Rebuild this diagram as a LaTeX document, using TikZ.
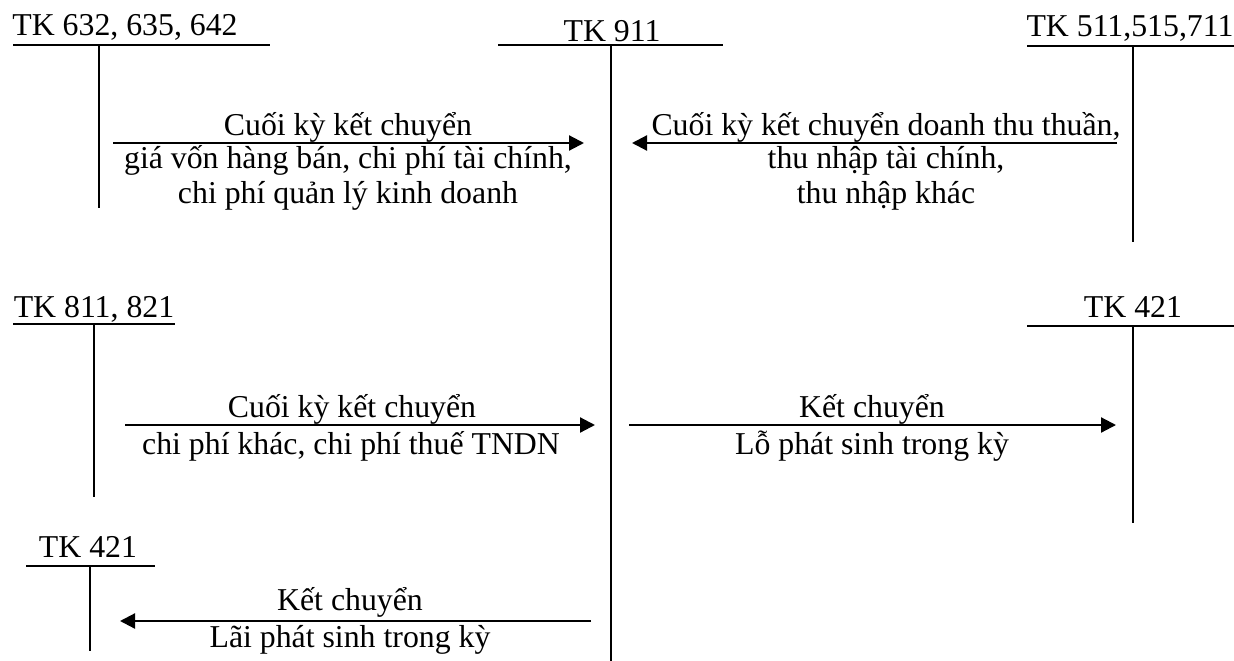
\documentclass[tikz,border=0pt]{standalone}
\usepackage{fontspec}
\setmainfont{Liberation Serif}
\usetikzlibrary{arrows.meta}
\begin{document}
\begin{tikzpicture}[x=1pt,y=-1pt,
  lbl/.style={inner sep=0pt,anchor=base,font=\fontsize{31.8}{35}\selectfont},
  tline/.style={line width=1.7pt},
  flow/.style={line width=2.2pt,-{Triangle[length=15pt,width=15pt]}}]
\useasboundingbox (0,0) rectangle (1234,661);

% ---- T-accounts: title, top rule, centre rule ----
% TK 632, 635, 642
\node[lbl] (t632) at (125,36) {TK 632, 635, 642};
\coordinate (t632L) at (13,45);  \coordinate (t632R) at (270,45);
\coordinate (t632T) at (99,45);  \coordinate (t632B) at (99,208);
\draw[tline] (t632L) -- (t632R);  \draw[tline] (t632T) -- (t632B);

% TK 911
\node[lbl] (t911) at (612,42) {TK 911};
\coordinate (t911L) at (498,45); \coordinate (t911R) at (723,45);
\coordinate (t911T) at (611,45); \coordinate (t911B) at (611,661);
\draw[tline] (t911L) -- (t911R);  \draw[tline] (t911T) -- (t911B);

% TK 511,515,711
\node[lbl] (t511) at (1130,37) {TK 511,515,711};
\coordinate (t511L) at (1027,46); \coordinate (t511R) at (1234,46);
\coordinate (t511T) at (1133,46); \coordinate (t511B) at (1133,242);
\draw[tline] (t511L) -- (t511R);  \draw[tline] (t511T) -- (t511B);

% TK 811, 821
\node[lbl] (t811) at (94,317) {TK 811, 821};
\coordinate (t811L) at (13,324); \coordinate (t811R) at (175,324);
\coordinate (t811T) at (94,324); \coordinate (t811B) at (94,497);
\draw[tline] (t811L) -- (t811R);  \draw[tline] (t811T) -- (t811B);

% TK 421 (loss side)
\node[lbl] (t421a) at (1133,317) {TK 421};
\coordinate (t421aL) at (1027,326); \coordinate (t421aR) at (1234,326);
\coordinate (t421aT) at (1133,326); \coordinate (t421aB) at (1133,523);
\draw[tline] (t421aL) -- (t421aR);  \draw[tline] (t421aT) -- (t421aB);

% TK 421 (profit side)
\node[lbl] (t421b) at (88,557) {TK 421};
\coordinate (t421bL) at (26,566); \coordinate (t421bR) at (155,566);
\coordinate (t421bT) at (90,566); \coordinate (t421bB) at (90,651);
\draw[tline] (t421bL) -- (t421bR);  \draw[tline] (t421bT) -- (t421bB);

% ---- transfers ----
\coordinate (f1s) at (113,143);  \coordinate (f1e) at (584,143);
\draw[flow] (f1s) -- (f1e);
\node[lbl] (f1a) at (348,135) {Cuối kỳ kết chuyển};
\node[lbl] (f1b) at (348,168) {giá vốn hàng bán, chi phí tài chính,};
\node[lbl] (f1c) at (348,203) {chi phí quản lý kinh doanh};

\coordinate (f2s) at (1117,143); \coordinate (f2e) at (632,143);
\draw[flow] (f2s) -- (f2e);
\node[lbl] (f2a) at (886,135) {Cuối kỳ kết chuyển doanh thu thuần,};
\node[lbl] (f2b) at (886,168) {thu nhập tài chính,};
\node[lbl] (f2c) at (886,203) {thu nhập khác};

\coordinate (f3s) at (125,425);  \coordinate (f3e) at (595,425);
\draw[flow] (f3s) -- (f3e);
\node[lbl] (f3a) at (352,417) {Cuối kỳ kết chuyển};
\node[lbl] (f3b) at (351,454) {chi phí khác, chi phí thuế TNDN};

\coordinate (f4s) at (629,425);  \coordinate (f4e) at (1116,425);
\draw[flow] (f4s) -- (f4e);
\node[lbl] (f4a) at (872,417) {Kết chuyển};
\node[lbl] (f4b) at (872,454) {Lỗ phát sinh trong kỳ};

\coordinate (f5s) at (591,621);  \coordinate (f5e) at (120,621);
\draw[flow] (f5s) -- (f5e);
\node[lbl] (f5a) at (350,610) {Kết chuyển};
\node[lbl] (f5b) at (350,647) {Lãi phát sinh trong kỳ};
\end{tikzpicture}
\end{document}
